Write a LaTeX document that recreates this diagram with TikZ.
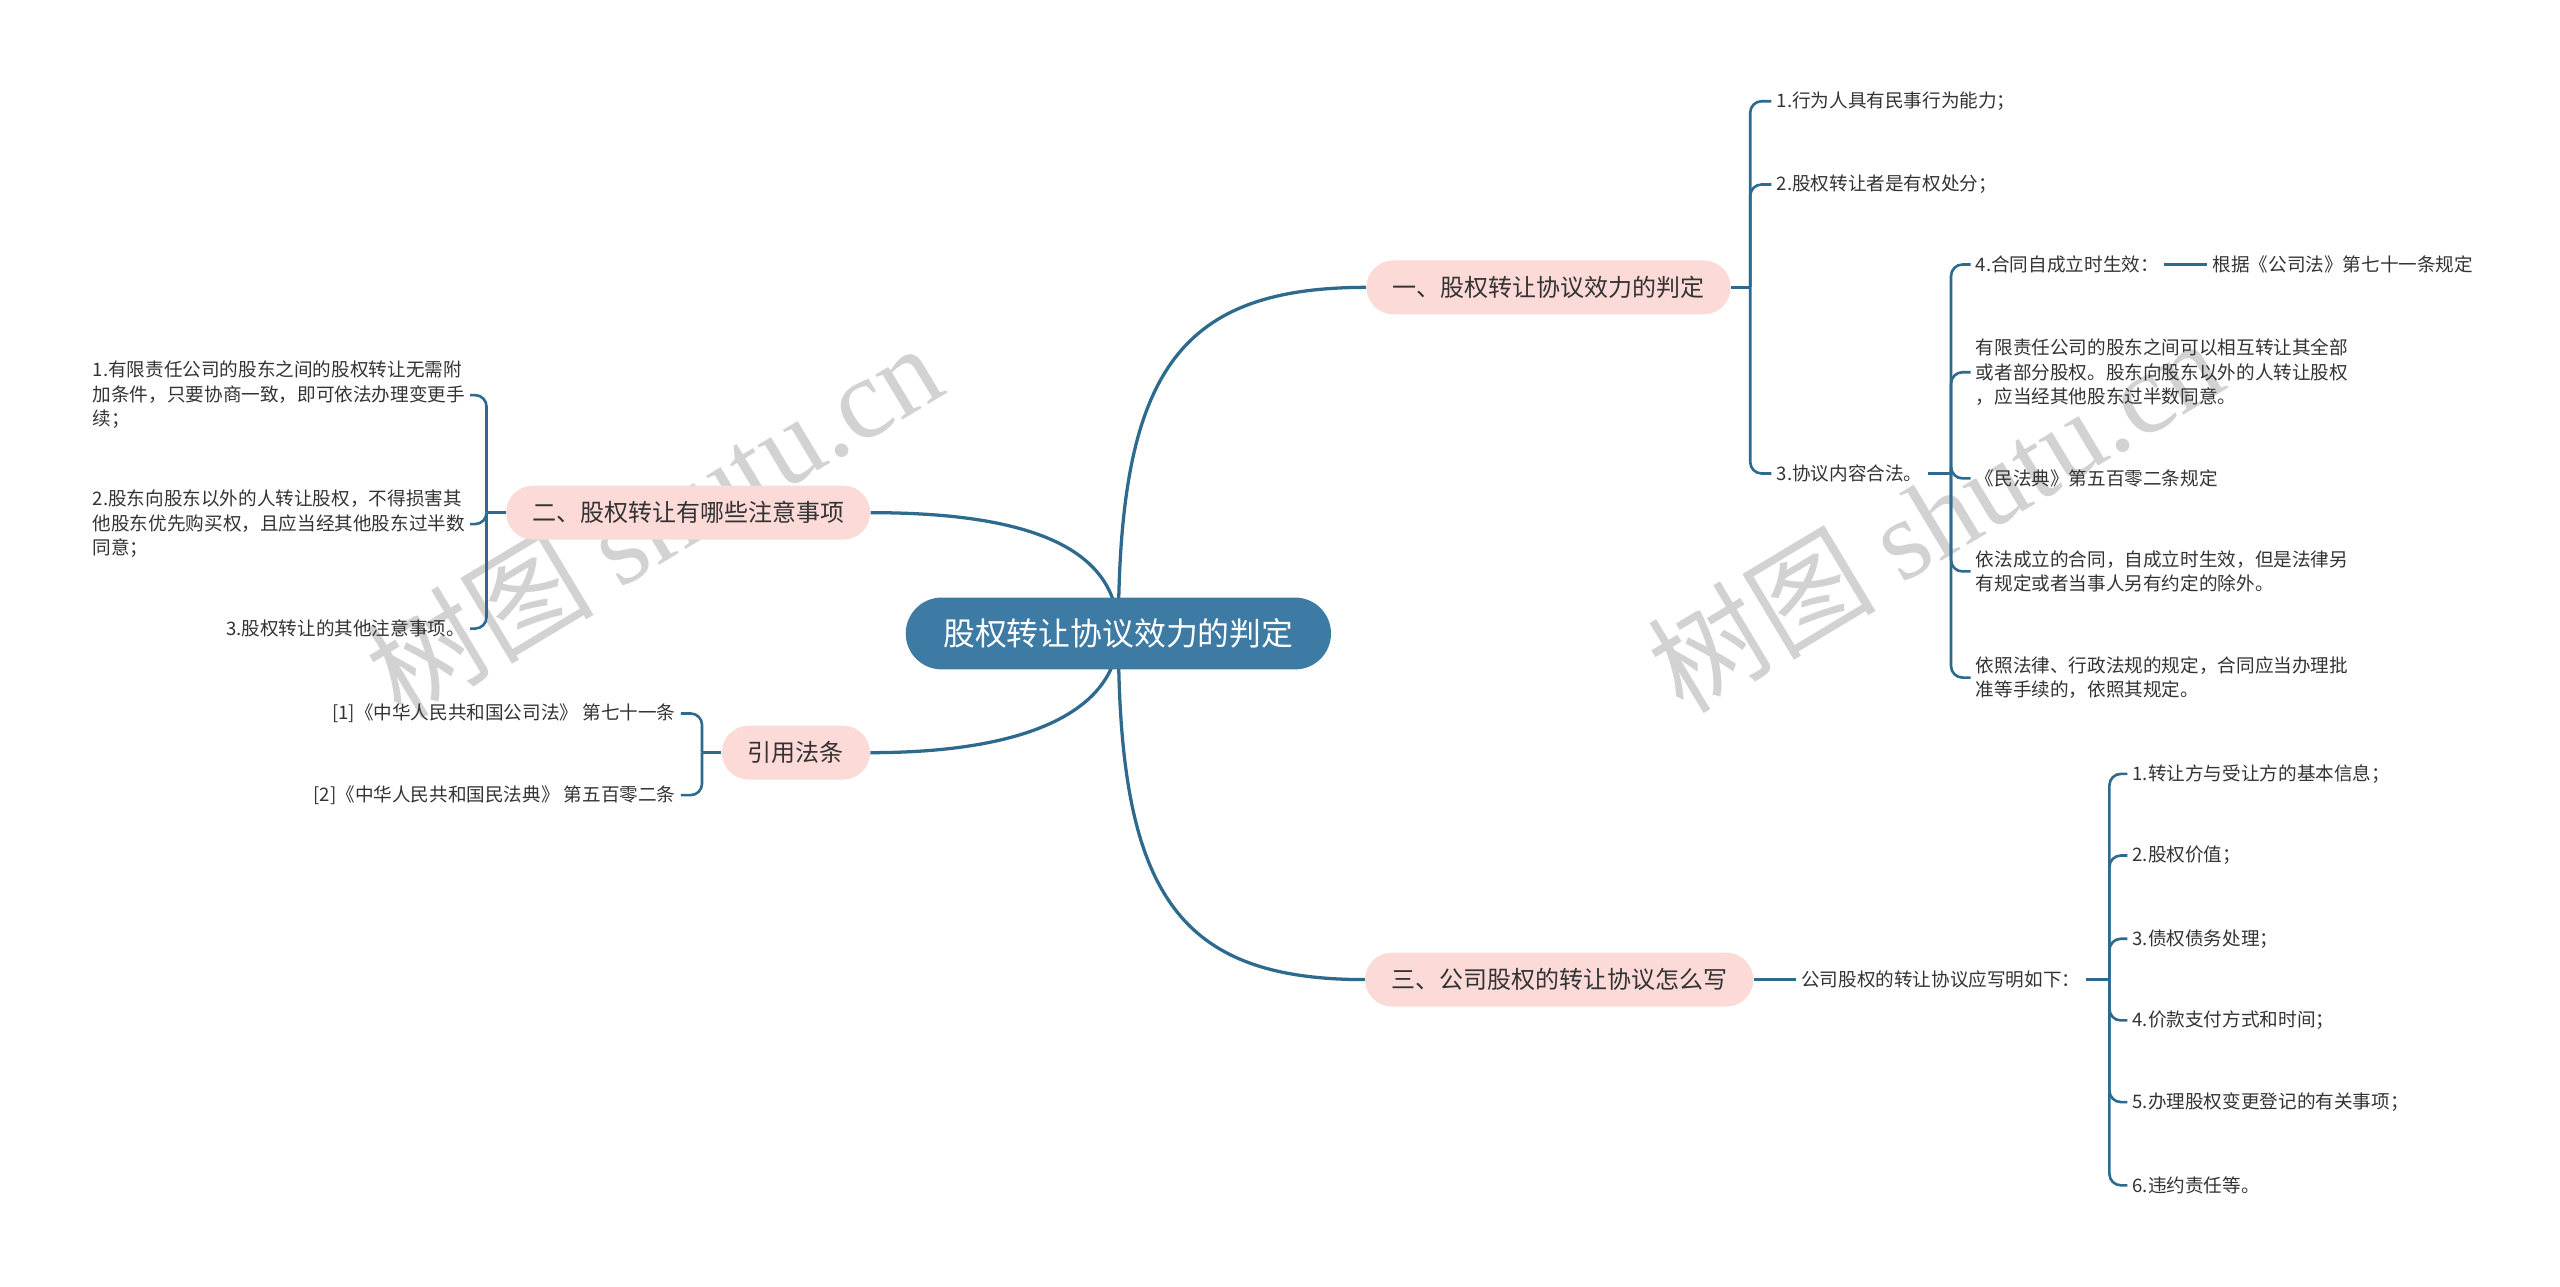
\documentclass[tikz,border=0pt]{standalone}
\usepackage{fontspec}
\setmainfont{Noto Sans CJK SC}
\newfontfamily\wmlatin{Liberation Serif}
\usetikzlibrary{backgrounds}
\definecolor{linec}{HTML}{2E6A8E}
\definecolor{rootc}{HTML}{3D7BA4}
\definecolor{pinkc}{HTML}{FBDAD7}
\definecolor{txtc}{HTML}{333333}
\definecolor{wmc}{HTML}{D2D2D2}
\tikzset{
  rootnode/.style={fill=rootc, text=white, rounded corners=22pt, minimum height=44pt, inner xsep=23pt, inner ysep=0pt, font=\fontsize{19.5}{22}\selectfont},
  branchnode/.style={fill=pinkc, text=txtc, rounded corners=16.5pt, minimum height=33pt, inner xsep=16pt, inner ysep=0pt, font=\fontsize{14.7}{17}\selectfont},
  leafnode/.style={text=txtc, inner sep=3pt, font=\fontsize{11.4}{15}\selectfont, align=left},
  mainlink/.style={draw=linec, line width=2pt},
  sublink/.style={draw=linec, line width=1.6pt, rounded corners=7pt},
  wmark/.style={text=wmc, font=\fontsize{70}{70}\selectfont, rotate=31, inner sep=0pt}
}
\begin{document}
\begin{tikzpicture}[x=1pt,y=-1pt]
\useasboundingbox (0,0) rectangle (1568,788);
% nodes
\node[rootnode] (root) at (685,388) {股权转让协议效力的判定};
\node[branchnode] (b1) at (948.5,176) {一、股权转让协议效力的判定};
\node[branchnode] (b2) at (421.5,314) {二、股权转让有哪些注意事项};
\node[branchnode] (b3) at (487.5,461) {引用法条};
\node[branchnode] (b4) at (955,600) {三、公司股权的转让协议怎么写};
% branch 1
\node[leafnode, anchor=west] (a1) at (1085,62) {1.行为人具有民事行为能力；};
\node[leafnode, anchor=west] (a2) at (1085,113) {2.股权转让者是有权处分；};
\node[leafnode, anchor=west] (a3) at (1085,290) {3.协议内容合法。};
\node[leafnode, anchor=west] (c1) at (1207,162) {4.合同自成立时生效：};
\node[leafnode, anchor=west] (d1) at (1352,162) {根据《公司法》第七十一条规定};
\node[leafnode, anchor=west] (c2) at (1207,228) {有限责任公司的股东之间可以相互转让其全部\\或者部分股权。股东向股东以外的人转让股权\\，应当经其他股东过半数同意。};
\node[leafnode, anchor=west] (c3) at (1207,293) {《民法典》第五百零二条规定};
\node[leafnode, anchor=west] (c4) at (1207,350) {依法成立的合同，自成立时生效，但是法律另\\有规定或者当事人另有约定的除外。};
\node[leafnode, anchor=west] (c5) at (1207,415) {依照法律、行政法规的规定，合同应当办理批\\准等手续的，依照其规定。};
% branch 2
\node[leafnode, anchor=east] (e1) at (288,242) {1.有限责任公司的股东之间的股权转让无需附\\加条件，只要协商一致，即可依法办理变更手\\续；};
\node[leafnode, anchor=east] (e2) at (288,321) {2.股东向股东以外的人转让股权，不得损害其\\他股东优先购买权，且应当经其他股东过半数\\同意；};
\node[leafnode, anchor=east] (e3) at (288,385) {3.股权转让的其他注意事项。};
% branch 3
\node[leafnode, anchor=east] (f1) at (417,437) {[1]《中华人民共和国公司法》 第七十一条};
\node[leafnode, anchor=east] (f2) at (417,487) {[2]《中华人民共和国民法典》 第五百零二条};
% branch 4
\node[leafnode, anchor=west] (g0) at (1100,600) {公司股权的转让协议应写明如下：};
\node[leafnode, anchor=west] (h1) at (1303,474) {1.转让方与受让方的基本信息；};
\node[leafnode, anchor=west] (h2) at (1303,524) {2.股权价值；};
\node[leafnode, anchor=west] (h3) at (1303,575) {3.债权债务处理；};
\node[leafnode, anchor=west] (h4) at (1303,625) {4.价款支付方式和时间；};
\node[leafnode, anchor=west] (h5) at (1303,675) {5.办理股权变更登记的有关事项；};
\node[leafnode, anchor=west] (h6) at (1303,726) {6.违约责任等。};
% joints
\coordinate (j1) at (1072,176);
\coordinate (j3) at (1195,290);
\coordinate (j2) at (298,314);
\coordinate (j4) at (430,461);
\coordinate (j5) at (1292,600);
\begin{scope}[on background layer]
  \node[wmark] (wm1) at (400,318) {树图 {\wmlatin shutu.cn}};
  \node[wmark] (wm2) at (1185,315) {树图 {\wmlatin shutu.cn}};
  \draw[mainlink] (root.center) .. controls (685,230) and (720,176) .. (b1.west);
  \draw[mainlink] (root.center) .. controls (685,546) and (720,600) .. (b4.west);
  \draw[mainlink] (root.center) .. controls (685,340) and (640,314) .. (b2.east);
  \draw[mainlink] (root.center) .. controls (685,430) and (640,461) .. (b3.east);
\end{scope}
% sub links
\draw[sublink] (b1.east) -- (j1);
\foreach \c in {a1,a2,a3} { \draw[sublink] (j1) |- (\c.west); }
\draw[sublink] (a3.east) -- (j3);
\foreach \c in {c1,c2,c3,c4,c5} { \draw[sublink] (j3) |- (\c.west); }
\draw[sublink] (c1.east) -- (d1.west);
\draw[sublink] (b2.west) -- (j2);
\foreach \c in {e1,e2,e3} { \draw[sublink] (j2) |- (\c.east); }
\draw[sublink] (b3.west) -- (j4);
\foreach \c in {f1,f2} { \draw[sublink] (j4) |- (\c.east); }
\draw[sublink] (b4.east) -- (g0.west);
\draw[sublink] (g0.east) -- (j5);
\foreach \c in {h1,h2,h3,h4,h5,h6} { \draw[sublink] (j5) |- (\c.west); }
\end{tikzpicture}
\end{document}
